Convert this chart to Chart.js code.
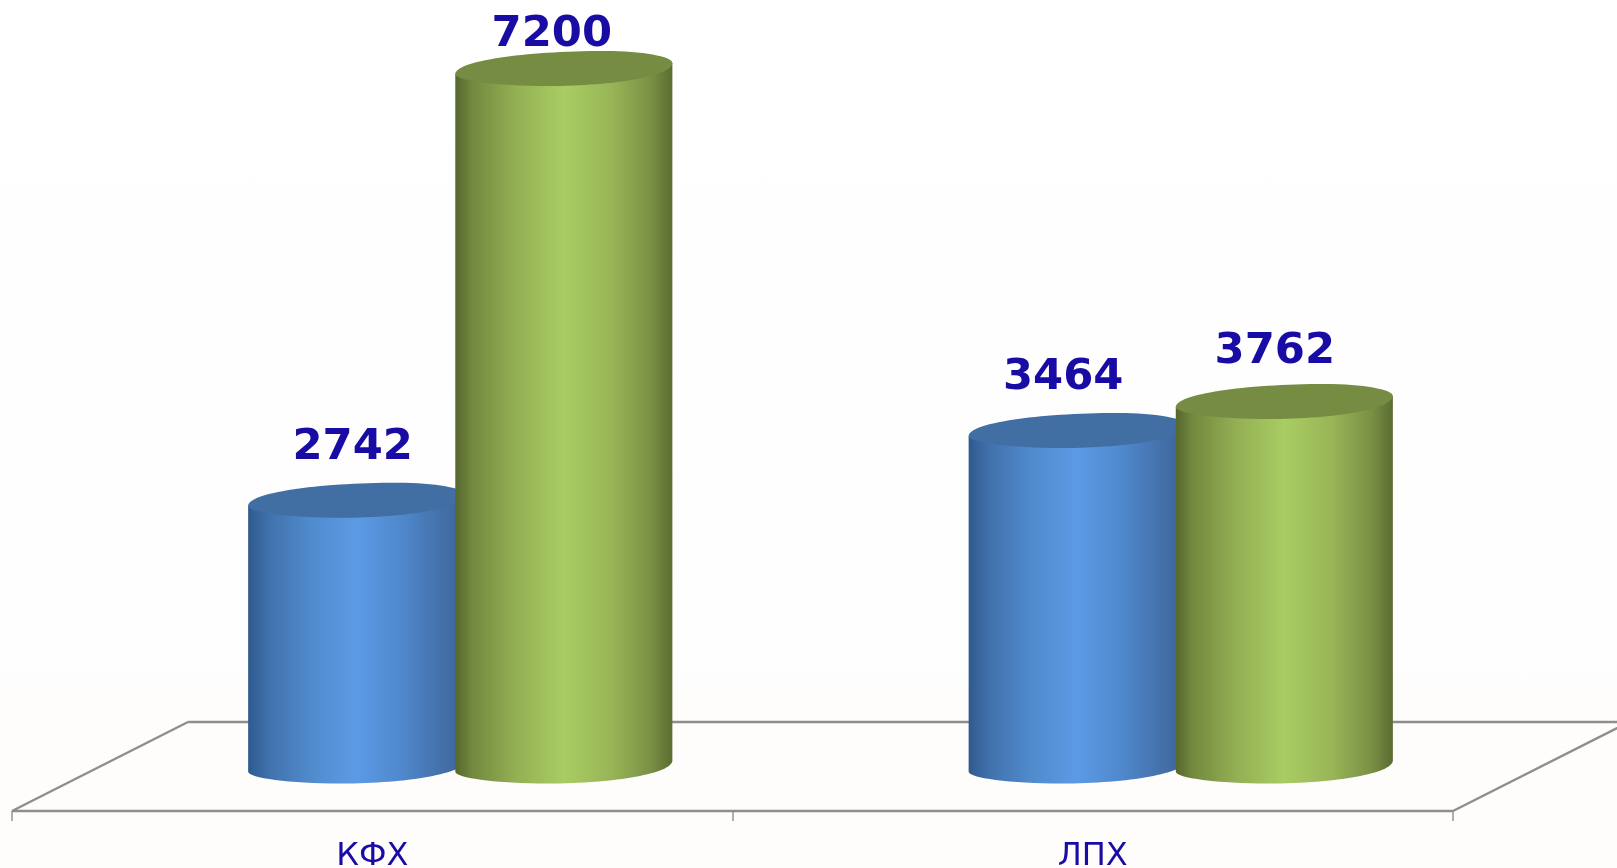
<!DOCTYPE html>
<html>
<head>
<meta charset="utf-8">
<script src="https://cdn.jsdelivr.net/npm/chart.js@4"></script>
<style>
html,body{margin:0;padding:0;width:1617px;height:868px;overflow:hidden;
background:linear-gradient(180deg,#ffffff 0%,#fffefe 50%,#fefdfc 100%);}
canvas{display:block}
</style>
</head>
<body>
<canvas id="c" width="1617" height="868"></canvas>
<script>
const categories = ['КФХ', 'ЛПХ'];
const seriesA = [2742, 3464];
const seriesB = [7200, 3762];

const textColor = '#190ca4';
const floorColor = '#8e8e8c';
const depth = 88, floorBack = 44, floorFront = 45;
const sideStops = [
  [[0,'#2f5a8e'],[0.1,'#4172ad'],[0.28,'#4f8acb'],[0.5,'#5c9ae5'],[0.7,'#4f89cd'],[0.9,'#446fa8'],[1,'#3a6498']],
  [[0,'#56662e'],[0.08,'#73893f'],[0.28,'#93b054'],[0.5,'#a9cc63'],[0.72,'#98b557'],[0.9,'#7a9044'],[1,'#5b6c32']]
];
const capColors = ['#416ea3', '#768c43'];
const labelShift = [[[-4,-52.5],[-14,-52.5]],[[-12,-34],[-9.5,-49.5]]];
const kappa = 0.55;

function edge(a, left, top, right, bottom) {
  return { a, left, top, right, bottom };
}
function lowerEdge(ctx, cx, cy, a) {
  const ax = cx - 0.15 * a, ay = cy + 17.5;
  const lx = cx - a, ly = cy + 5.5, rx = cx + a, ry = cy - 5.5;
  ctx.bezierCurveTo(lx, ly + (ay - ly) * kappa, ax - (ax - lx) * kappa, ay, ax, ay);
  ctx.bezierCurveTo(ax + (rx - ax) * kappa, ay, rx, ry + (ay - ry) * kappa, rx, ry);
}
function capPath(ctx, cx, cy, a) {
  const tx = cx + 0.38 * a, ty = cy - 17.5;
  const lx = cx - a, ly = cy + 5.5, rx = cx + a, ry = cy - 5.5;
  ctx.beginPath();
  ctx.moveTo(lx, ly);
  lowerEdge(ctx, cx, cy, a);
  ctx.bezierCurveTo(rx, ry - (ry - ty) * kappa, tx + (rx - tx) * kappa, ty, tx, ty);
  ctx.bezierCurveTo(tx - (tx - lx) * kappa, ty, lx, ly - (ly - ty) * kappa, lx, ly);
  ctx.closePath();
}
function drawCylinder(ctx, el, ds) {
  const a = el.width / 2, cx = el.x, top = el.y, base = el.base;
  const g = ctx.createLinearGradient(cx - a, 0, cx + a, 0);
  sideStops[ds].forEach(s => g.addColorStop(s[0], s[1]));
  ctx.save();
  ctx.fillStyle = g;
  ctx.beginPath();
  ctx.moveTo(cx - a, top + 5.5);
  ctx.lineTo(cx - a, base + 5.5);
  lowerEdge(ctx, cx, base, a);
  ctx.lineTo(cx + a, top - 5.5);
  ctx.closePath();
  ctx.fill();
  ctx.fillStyle = capColors[ds];
  capPath(ctx, cx, top, a);
  ctx.fill();
  ctx.restore();
}

function drawFloor(chart) {
  const ctx = chart.ctx, xs = chart.scales.x, ys = chart.scales.y;
  const y0 = ys.getPixelForValue(0);
  const backY = y0 - floorBack, frontY = y0 + floorFront;
  const fl = xs.left - depth, fr = xs.right - depth;
  const bl = xs.left + depth, br = xs.right + depth;
  ctx.save();
  ctx.strokeStyle = floorColor;
  ctx.lineWidth = 2.4;
  ctx.beginPath();
  ctx.moveTo(fl, frontY); ctx.lineTo(fr, frontY);
  ctx.moveTo(bl, backY); ctx.lineTo(br, backY);
  ctx.moveTo(fl, frontY); ctx.lineTo(bl, backY);
  ctx.moveTo(fr, frontY); ctx.lineTo(br, backY);
  ctx.stroke();
  ctx.lineWidth = 1.4;
  ctx.beginPath();
  const step = (xs.right - xs.left) / categories.length;
  for (let i = 0; i <= categories.length; i++) {
    const x = Math.round(fl + i * step);
    ctx.moveTo(x, frontY); ctx.lineTo(x, frontY + 10);
  }
  ctx.stroke();
  ctx.restore();
}

const cylinders = {
  id: 'cylinders',
  beforeDatasetsDraw(chart) {
    const ctx = chart.ctx;
    drawFloor(chart);
    [0, 1].forEach(ds => {
      chart.getDatasetMeta(ds).data.forEach(el => drawCylinder(ctx, el, ds));
    });
    ctx.save();
    ctx.fillStyle = textColor;
    ctx.font = 'bold 43.3px "DejaVu Sans"';
    ctx.textAlign = 'center';
    ctx.textBaseline = 'middle';
    [0, 1].forEach(ds => {
      const vals = chart.data.datasets[ds].data;
      chart.getDatasetMeta(ds).data.forEach((el, i) => {
        const s = labelShift[ds][i];
        ctx.fillText(String(vals[i]), el.x + s[0], el.y + s[1]);
      });
    });
    ctx.restore();
    return false;
  }
};

new Chart(document.getElementById('c'), {
  type: 'bar',
  data: {
    labels: categories,
    datasets: [
      { label: 'A', data: seriesA, backgroundColor: '#5c9ae5' },
      { label: 'B', data: seriesB, backgroundColor: '#a9cc63' }
    ]
  },
  options: {
    responsive: false,
    animation: false,
    events: [],
    layout: { padding: { left: 100, right: 76, top: 0, bottom: 0 } },
    datasets: { bar: { categoryPercentage: 0.575, barPercentage: 1.048 } },
    plugins: { legend: { display: false }, title: { display: false }, tooltip: { enabled: false } },
    scales: {
      x: {
        grid: { display: false },
        border: { display: false },
        afterFit(scale) { scale.height = 102; },
        ticks: {
          color: textColor,
          font: { family: '"DejaVu Sans"', size: 32 },
          padding: 63,
          labelOffset: -88,
          maxRotation: 0,
          autoSkip: false
        }
      },
      y: { display: false, min: 0, max: 7906 }
    }
  },
  plugins: [cylinders]
});
</script>
</body>
</html>
